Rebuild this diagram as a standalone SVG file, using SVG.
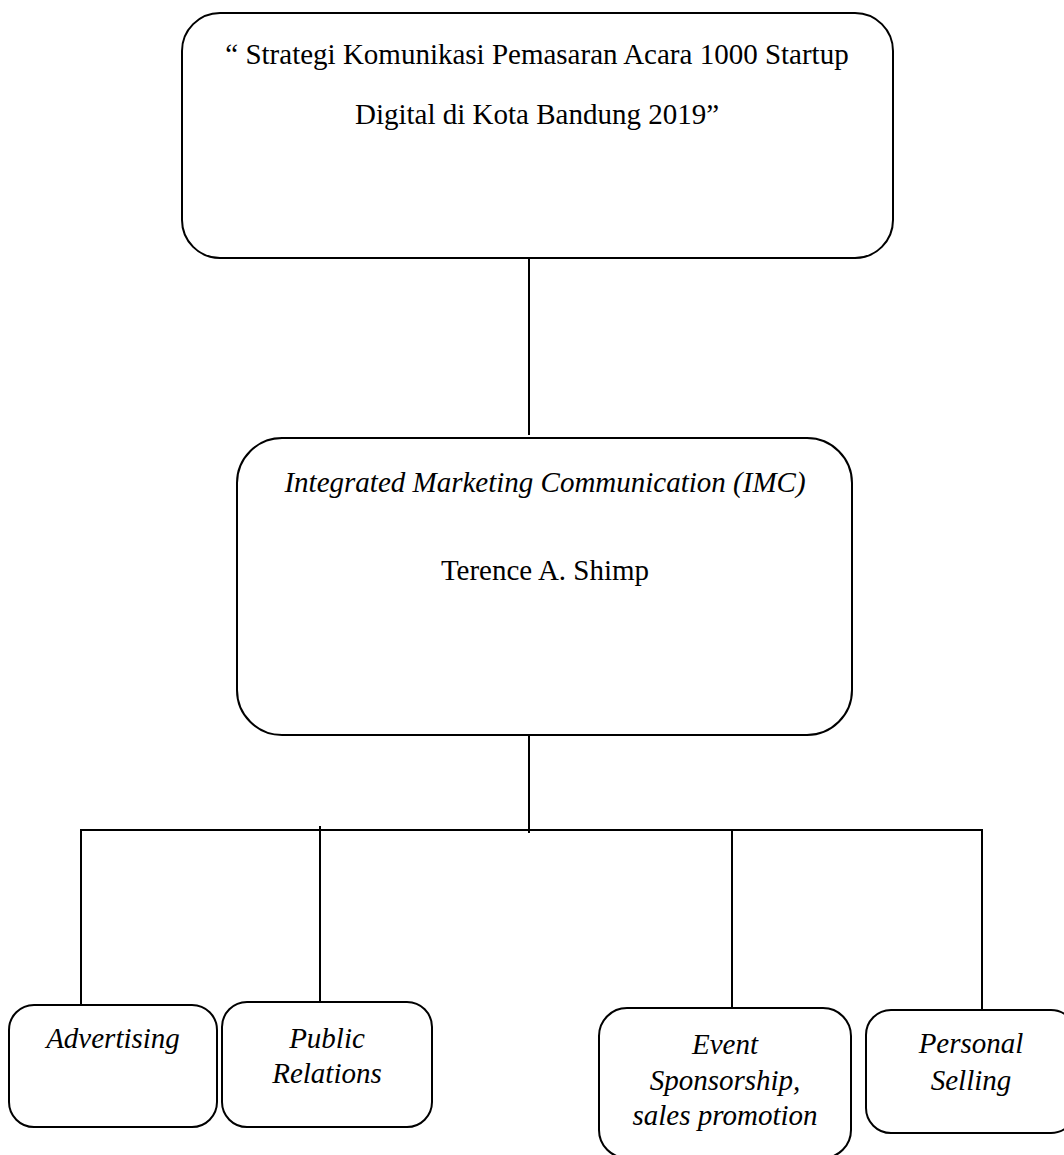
<svg xmlns="http://www.w3.org/2000/svg" width="1064" height="1155" viewBox="0 0 1064 1155">
<style>
.box{fill:#fff;stroke:#000;stroke-width:2}
.ln{stroke:#000;stroke-width:2;fill:none}
.t{font-family:"Liberation Serif","Times New Roman",serif;font-size:29px;fill:#000;text-anchor:middle}
.i{font-style:italic}
</style>
<rect width="1064" height="1155" fill="#fff"/>
<g id="connectors">
<line class="ln" x1="529" y1="258" x2="529" y2="435"/>
<line class="ln" x1="529" y1="736" x2="529" y2="833"/>
<line class="ln" x1="81" y1="830" x2="982" y2="830"/>
<line class="ln" x1="81" y1="829" x2="81" y2="1008"/>
<line class="ln" x1="320" y1="826" x2="320" y2="1001"/>
<line class="ln" x1="732" y1="829" x2="732" y2="1008"/>
<line class="ln" x1="982" y1="829" x2="982" y2="1010"/>
</g>
<g id="node-title">
<rect class="box" x="182" y="13" width="711" height="245" rx="38"/>
<text class="t" x="537" y="64">“ Strategi Komunikasi Pemasaran Acara 1000 Startup</text>
<text class="t" x="537" y="124">Digital di Kota Bandung 2019”</text>
</g>
<g id="node-imc">
<rect class="box" x="237" y="438" width="615" height="297" rx="45"/>
<text class="t i" x="545" y="492">Integrated Marketing Communication (IMC)</text>
<text class="t" x="545" y="580">Terence A. Shimp</text>
</g>
<g id="node-advertising">
<rect class="box" x="9" y="1005" width="208" height="122" rx="25"/>
<text class="t i" x="113" y="1048">Advertising</text>
</g>
<g id="node-pr">
<rect class="box" x="222" y="1002" width="210" height="125" rx="25"/>
<text class="t i" x="327" y="1048">Public</text>
<text class="t i" x="327" y="1083">Relations</text>
</g>
<g id="node-event">
<rect class="box" x="599" y="1008" width="252" height="150" rx="28"/>
<text class="t i" x="725" y="1054">Event</text>
<text class="t i" x="725" y="1090">Sponsorship,</text>
<text class="t i" x="725" y="1125">sales promotion</text>
</g>
<g id="node-personal">
<rect class="box" x="866" y="1010" width="210" height="123" rx="25"/>
<text class="t i" x="971" y="1053">Personal</text>
<text class="t i" x="971" y="1090">Selling</text>
</g>
</svg>
